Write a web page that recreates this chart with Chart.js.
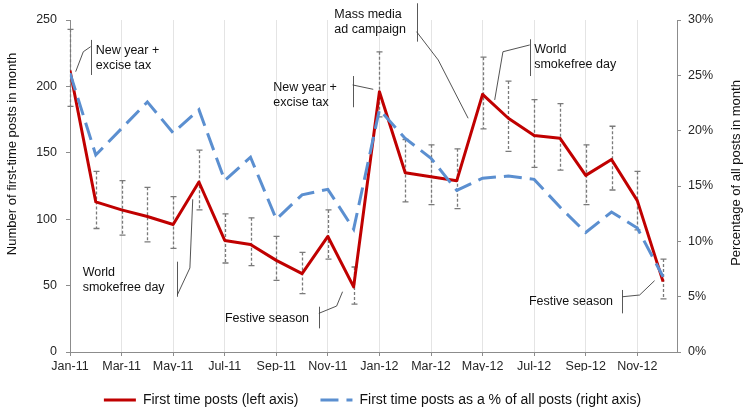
<!DOCTYPE html>
<html><head><meta charset="utf-8">
<script src="https://cdn.jsdelivr.net/npm/chart.js@4.4.1/dist/chart.umd.min.js"></script>
<style>html,body{margin:0;padding:0;overflow:hidden;background:#fff}#wrap{width:745px;height:417px;position:relative}</style>
</head><body><div id="wrap"><canvas id="c"></canvas></div>
<script>
// ---- data ----
const months = ["Jan-11","Feb-11","Mar-11","Apr-11","May-11","Jun-11","Jul-11","Aug-11","Sep-11","Oct-11","Nov-11","Dec-11",
                "Jan-12","Feb-12","Mar-12","Apr-12","May-12","Jun-12","Jul-12","Aug-12","Sep-12","Oct-12","Nov-12","Dec-12"];
const tickLabels = ["Jan-11","Mar-11","May-11","Jul-11","Sep-11","Nov-11","Jan-12","Mar-12","May-12","Jul-12","Sep-12","Nov-12"];
const firstTimePosts = [212,113,107,102,96,128,84,81,69,59,87,49,196,135,132,129,194,176,163,161,133,145,114,53];
const errUpper       = [243,136,129,124,117,152,104,101,87,75,107,64,226,160,156,153,222,204,190,187,156,170,136,70];
const errLower       = [185,93,88,83,78,107,67,65,54,44,70,36,177,113,111,108,168,151,139,137,111,122,92,40];
const pctOfAllPosts  = [25.2,17.8,20.2,22.6,19.8,21.9,15.5,17.6,12.0,14.2,14.7,11.1,21.9,19.3,17.5,14.6,15.7,15.9,15.6,13.1,10.8,12.65,11.2,6.8];
const seriesLabels = ["First time posts (left axis)","First time posts as a % of all posts (right axis)"];
const axisTitles = ["Number of first-time posts in month","Percentage of all posts in month"];

// annotations (text anchor, bar and leader in data units: month index, left-axis value)
const annotations = [
  {lines:["New year +","excise tax"], text:[0.996,226.7], bar:[0.80,235,208.6], leader:[[0.80,229.9],[0.516,226.1],[0.22,211.1]]},
  {lines:["World","smokefree day"], text:[0.49,59.5], bar:[4.16,68.0,41.6], leader:[[4.16,42.9],[4.65,63.3],[4.76,115.0]]},
  {lines:["Festive season"], text:[6.01,25.4], bar:[9.65,34.1,17.8], leader:[[9.65,29.1],[10.34,34.6],[10.57,45.4]]},
  {lines:["New year +","excise tax"], text:[7.88,199.3], bar:[10.96,207.8,184.3], leader:[[10.96,201.1],[11.76,197.8]]},
  {lines:["Mass media","ad campaign"], text:[10.25,253.8], bar:[13.44,262.6,233.7], leader:[[13.44,241.2],[14.28,219.9],[15.44,176.0]]},
  {lines:["World","smokefree day"], text:[18.0,227.4], bar:[17.83,235.5,207.8], leader:[[17.83,231.2],[16.79,226.1],[16.47,189.8]]},
  {lines:["Festive season"], text:[17.80,37.9], bar:[21.42,46.7,29.1], leader:[[21.42,41.6],[22.09,42.9],[22.67,53.7]]}
];

const FONT = "'Liberation Sans', Arial, sans-serif";
const TEXT = '#262626';
const AXIS = '#8c8c8c';

const errorBars = {
  id: 'errorBars',
  beforeDatasetsDraw(chart) {
    const {ctx, scales: {x, y}} = chart;
    ctx.save();
    ctx.strokeStyle = '#7a7a7a';
    ctx.lineWidth = 1.3;
    for (let i = 0; i < months.length; i++) {
      const px = Math.round(x.getPixelForValue(i)) + 0.5;
      const t = y.getPixelForValue(errUpper[i]);
      const b = y.getPixelForValue(errLower[i]);
      ctx.setLineDash([3, 2]);
      ctx.beginPath(); ctx.moveTo(px, t); ctx.lineTo(px, b); ctx.stroke();
      ctx.setLineDash([]);
      ctx.beginPath();
      ctx.moveTo(px - 3, t); ctx.lineTo(px + 3, t);
      ctx.moveTo(px - 3, b); ctx.lineTo(px + 3, b);
      ctx.stroke();
    }
    ctx.restore();
  }
};

const notes = {
  id: 'notes',
  afterDraw(chart) {
    const {ctx, scales: {x, y}} = chart;
    ctx.save();
    ctx.font = "12.5px " + FONT;
    ctx.fillStyle = '#111';
    ctx.textBaseline = 'middle';
    ctx.textAlign = 'left';
    annotations.forEach(a => {
      const tx = x.getPixelForValue(a.text[0]);
      const ty = y.getPixelForValue(a.text[1]);
      a.lines.forEach((l, k) => ctx.fillText(l, tx, ty + k * 15));
      // bar
      ctx.strokeStyle = '#595959';
      ctx.lineWidth = 1;
      const bx = Math.round(x.getPixelForValue(a.bar[0])) + 0.5;
      ctx.beginPath();
      ctx.moveTo(bx, y.getPixelForValue(a.bar[1]));
      ctx.lineTo(bx, y.getPixelForValue(a.bar[2]));
      ctx.stroke();
      // leader
      ctx.strokeStyle = '#404040';
      ctx.lineWidth = 0.9;
      ctx.beginPath();
      a.leader.forEach((p, k) => {
        const px = x.getPixelForValue(p[0]), py = y.getPixelForValue(p[1]);
        if (k === 0) ctx.moveTo(px, py); else ctx.lineTo(px, py);
      });
      ctx.stroke();
    });
    // axis titles
    ctx.font = "13px " + FONT;
    ctx.fillStyle = '#111';
    ctx.textAlign = 'center';
    ctx.textBaseline = 'middle';
    ctx.save(); ctx.translate(12, 154); ctx.rotate(-Math.PI / 2); ctx.fillText(axisTitles[0], 0, 0); ctx.restore();
    ctx.save(); ctx.translate(736, 173); ctx.rotate(-Math.PI / 2); ctx.fillText(axisTitles[1], 0, 0); ctx.restore();
    ctx.restore();
  }
};

new Chart(document.getElementById('c'), {
  type: 'line',
  data: {
    datasets: [
      {label: seriesLabels[0], data: firstTimePosts.map((v, i) => ({x: i, y: v})), yAxisID: 'y',
       borderColor: '#C00000', backgroundColor: '#C00000', borderWidth: 3, pointRadius: 0, tension: 0, fill: false, order: 1,
       borderJoinStyle: 'round'},
      {label: seriesLabels[1], data: pctOfAllPosts.map((v, i) => ({x: i, y: v})), yAxisID: 'y1',
       borderColor: '#5B8FD0', backgroundColor: '#5B8FD0', borderWidth: 3, borderDash: [18, 8], pointRadius: 0, tension: 0, fill: false, order: 0}
    ]
  },
  options: {
    responsive: true, maintainAspectRatio: false, animation: false,
    layout: {padding: {top: 20, left: 0, right: 0, bottom: 0}},
    plugins: {
      tooltip: {enabled: false},
      legend: {
        position: 'bottom',
        labels: {
          usePointStyle: true, pointStyleWidth: 32, padding: 22,
          font: {family: FONT, size: 14}, color: '#111',
          generateLabels(chart) {
            return chart.data.datasets.map((ds, i) => ({
              text: ds.label, fillStyle: ds.borderColor, strokeStyle: ds.borderColor,
              lineWidth: 3, lineDash: ds.borderDash || [], pointStyle: 'line', datasetIndex: i, hidden: false, fontColor: '#111'
            }));
          }
        }
      }
    },
    scales: {
      x: {
        type: 'linear', min: 0, max: 23.54,
        afterBuildTicks(s) { s.ticks = tickLabels.map((_, k) => ({value: k * 2})); },
        afterFit(s) { s.height = 19; },
        ticks: {autoSkip: false, maxRotation: 0, padding: 3, color: TEXT, font: {family: FONT, size: 12.5},
                callback: (v, i) => tickLabels[i]},
        grid: {color: '#e4e4e4', tickColor: AXIS, tickLength: 4, lineWidth: 1},
        border: {color: AXIS}
      },
      y: {
        position: 'left', min: 0, max: 250,
        afterFit(s) { s.width = 70; },
        ticks: {stepSize: 50, padding: 9, color: TEXT, font: {family: FONT, size: 12.5}},
        grid: {drawOnChartArea: false, tickColor: AXIS, tickLength: 4},
        border: {color: AXIS}
      },
      y1: {
        position: 'right', min: 0, max: 30,
        afterFit(s) { s.width = 68; },
        ticks: {stepSize: 5, padding: 7, color: TEXT, font: {family: FONT, size: 12.5}, callback: v => v + '%'},
        grid: {drawOnChartArea: false, tickColor: AXIS, tickLength: 4},
        border: {color: AXIS}
      }
    }
  },
  plugins: [errorBars, notes]
});
</script></body></html>
